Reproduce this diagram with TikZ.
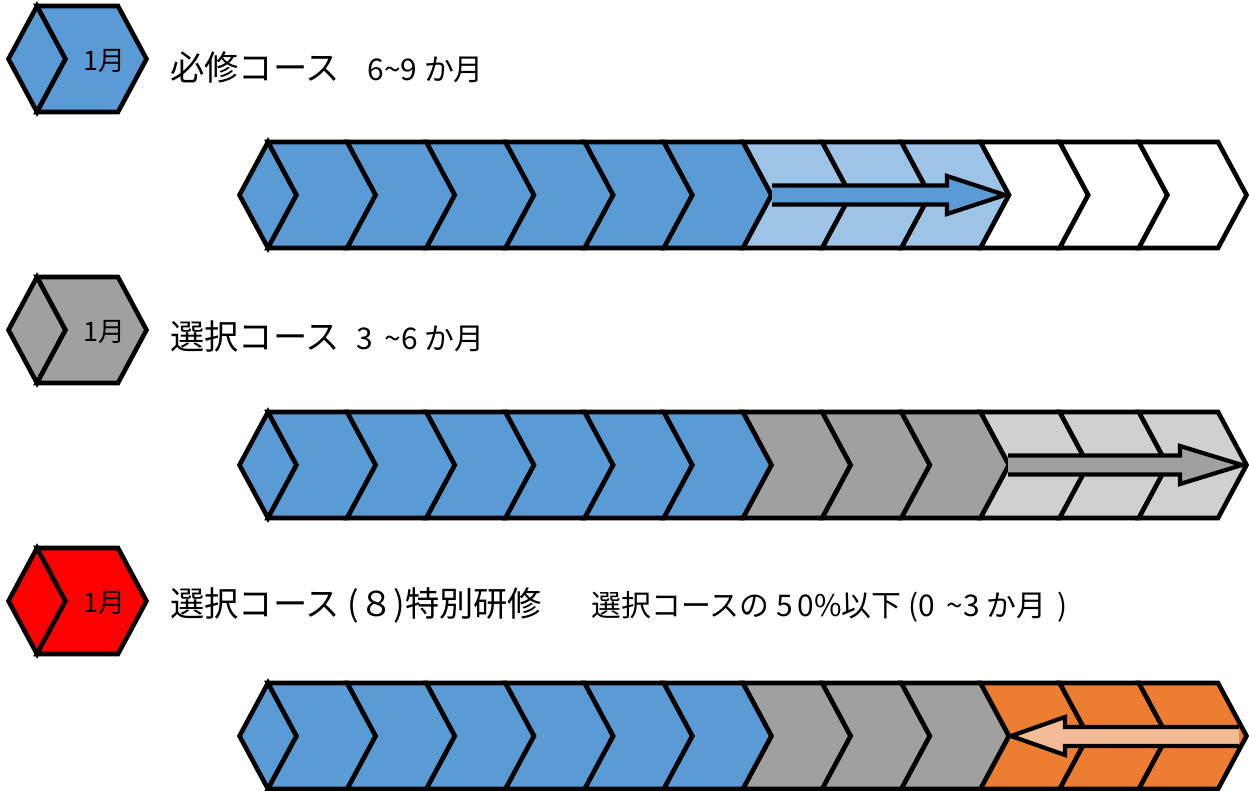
\documentclass[tikz,border=0pt]{standalone}
\usepackage{fontspec}
\setmainfont{Noto Sans CJK JP}
\usetikzlibrary{positioning}

\definecolor{mblue}{HTML}{5B9BD5}
\definecolor{lblue}{HTML}{9DC3E6}
\definecolor{mgray}{HTML}{A0A0A0}
\definecolor{lgray}{HTML}{D0D0D0}
\definecolor{morange}{HTML}{ED7D31}
\definecolor{lorange}{HTML}{F4BC96}

% chevron: fill, left x, mid y, width
\newcommand{\chevseg}[4]{%
  \filldraw[seg, fill=#1] (#2,#3-53) -- ++(#4,0) -- ++(28.5,53) -- ++(-28.5,53)
    -- ++(-#4,0) -- ++(28.5,-53) -- cycle;}
% pointed start piece: fill, x of top corner, mid y
\newcommand{\startseg}[3]{%
  \filldraw[seg, fill=#1] (#2-28.5,#3) -- (#2,#3-53) -- (#2+28.5,#3) -- (#2,#3+53) -- cycle;}

\begin{document}
\begin{tikzpicture}[x=0.02cm,y=-0.02cm,
  seg/.style={draw=black,line width=2.6pt,line join=miter},
  arr/.style={draw=black,line width=2.4pt,line join=miter},
  big label/.style={font=\fontsize{19.5}{22}\selectfont,inner sep=0pt},
  small label/.style={font=\fontsize{17}{19}\selectfont,inner sep=0pt},
  month/.style={font=\fontsize{15.3}{18}\selectfont,inner sep=0pt}]

  \useasboundingbox (0,0) rectangle (1249,791);

  % legend
  \foreach \m/\c [count=\k] in {59/mblue,330/mgray,601/red} {
    \startseg{\c}{37}{\m}
    \chevseg{\c}{37}{\m}{81}
    \node[month] (m\k) at (104,\m+2) {1月};
  }

  \node[big label,anchor=west] (req) at (170,67) {必修コース};
  \node[small label,base right=0.54cm of req] (reqt) {6\textasciitilde9 か月};
  \node[big label,anchor=west] (sel) at (170,337) {選択コース};
  \node[small label,base right=0.32cm of sel] (selt) {3 \,\textasciitilde6 か月};
  \node[big label,anchor=west] (spc) at (170,605) {選択コース (８)特別研修};
  \node[small label,base right=0.98cm of spc] (spct) {選択コースの 5\,0\%以下 (0\, \textasciitilde3 か月\, )};

  % bars
  \foreach \m/\ca/\cb in {195/lblue/white,465/mgray/lgray,736/mgray/morange} {
    \startseg{mblue}{268}{\m}
    \foreach \i in {0,...,5} {\chevseg{mblue}{268+79.17*\i}{\m}{79.17}}
    \foreach \i in {6,...,8} {\chevseg{\ca}{268+79.17*\i}{\m}{79.17}}
    \foreach \i in {9,...,11} {\chevseg{\cb}{268+79.17*\i}{\m}{79.17}}
  }

  % arrows
  \fill[mblue] (772,185.5) -- (947,185.5) -- (947,176) -- (1005,195) -- (947,214)
    -- (947,204.5) -- (772,204.5) -- cycle;
  \draw[arr] (772,185.5) -- (947,185.5) -- (947,176) -- (1005,195) -- (947,214)
    -- (947,204.5) -- (772,204.5);

  \fill[mgray] (1008,455.5) -- (1180,455.5) -- (1180,446) -- (1242,465) -- (1180,484)
    -- (1180,474.5) -- (1008,474.5) -- cycle;
  \draw[arr] (1008,455.5) -- (1180,455.5) -- (1180,446) -- (1242,465) -- (1180,484)
    -- (1180,474.5) -- (1008,474.5);

  \fill[lorange] (1239,727) -- (1065,727) -- (1065,717) -- (1011,736) -- (1065,755)
    -- (1065,746) -- (1239,746) -- cycle;
  \draw[arr] (1239,727) -- (1065,727) -- (1065,717) -- (1011,736) -- (1065,755)
    -- (1065,746) -- (1239,746);
\end{tikzpicture}
\end{document}
